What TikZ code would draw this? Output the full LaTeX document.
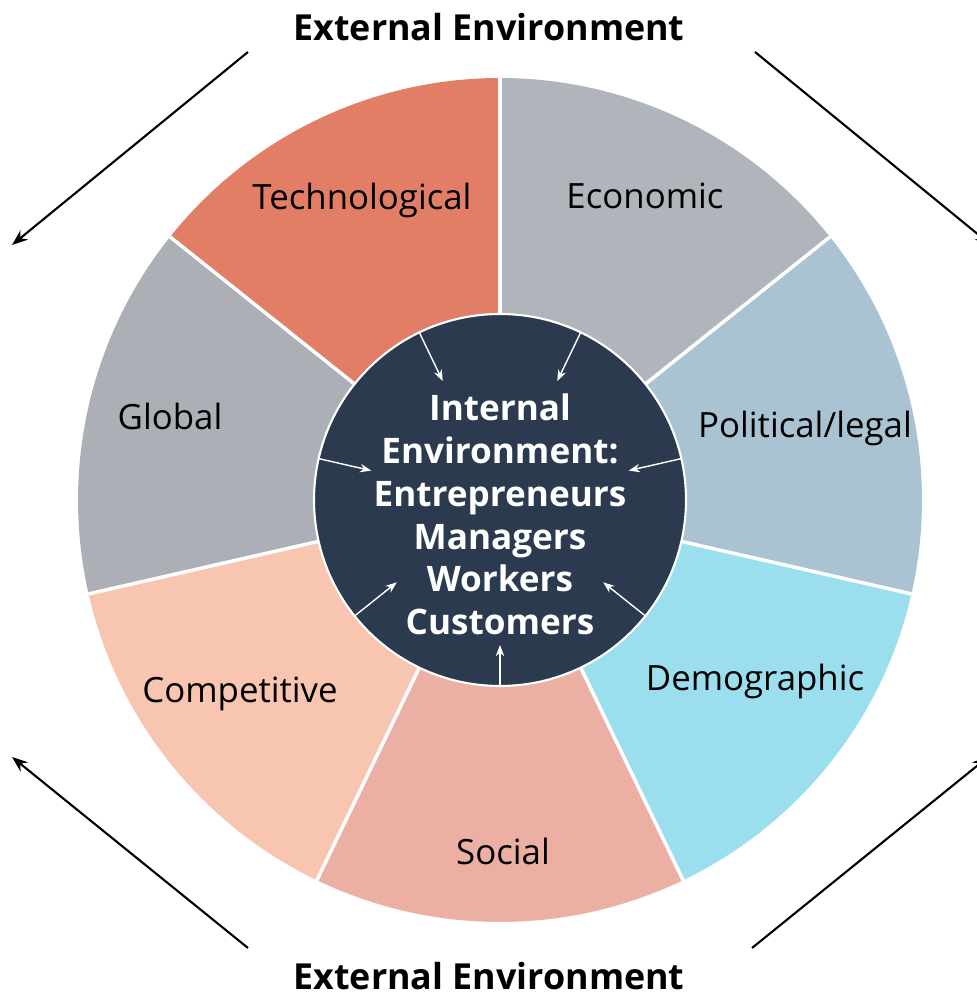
\documentclass[tikz,border=0pt]{standalone}
\usepackage{fontspec}
\setmainfont{Open Sans}
\usetikzlibrary{arrows.meta,calc}
\definecolor{rojoTec}{HTML}{E27D66}
\definecolor{grisEco}{HTML}{B0B5BC}
\definecolor{azulPol}{HTML}{A9C3D3}
\definecolor{cianDem}{HTML}{9BDEED}
\definecolor{rosaSoc}{HTML}{EBB0A3}
\definecolor{salmonCom}{HTML}{F7C5B0}
\definecolor{grisGlo}{HTML}{ACB0B6}
\definecolor{marinoInt}{HTML}{2B3A4F}

\tikzset{
  sector/.style={font=\fontsize{9.9}{12}\selectfont,text=black},
  outarrow/.style={->,line width=0.6pt,black},
  inarrow/.style={-{Stealth[length=3.2pt,width=2.4pt]},line width=0.4pt,white},
  extlabel/.style={font=\bfseries\fontsize{10.2}{12}\selectfont}
}

\begin{document}
\begin{tikzpicture}[>={Stealth[length=4.5pt,width=3.4pt]}]
  \useasboundingbox (-5,-4.97) rectangle (4.77,5);
  \def\Ro{4.22}
  \def\ri{1.86}
  % wedges, clockwise from the top
  \foreach \i/\col in {0/grisEco,1/azulPol,2/cianDem,3/rosaSoc,4/salmonCom,5/grisGlo,6/rojoTec}{
    \pgfmathsetmacro\a{90-\i*360/7}
    \fill[\col] (0,0) -- (\a:\Ro) arc[start angle=\a,delta angle=-360/7,radius=\Ro] -- cycle;
  }
  \foreach \i in {0,...,6}{
    \pgfmathsetmacro\a{90-\i*360/7}
    \draw[white,line width=1pt] (0,0) -- (\a:\Ro);
  }
  \fill[marinoInt] (0,0) circle (\ri);
  \draw[white,line width=0.6pt] (0,0) circle (\ri);

  % white arrows into the core
  \foreach \i/\r in {0/1.32,1/1.32,2/1.32,3/1.45,4/1.32,5/1.32,6/1.32}{
    \pgfmathsetmacro\a{90-360/14-\i*360/7}
    \draw[inarrow] (\a:\ri) -- (\a:\r);
  }

  \node[sector] (eco) at (1.45,3.04) {Economic};
  \node[sector] (pol) at (3.05,0.72) {Political/legal};
  \node[sector] (dem) at (2.55,-1.81) {Demographic};
  \node[sector] (soc) at (0.03,-3.51) {Social};
  \node[sector] (com) at (-2.60,-1.94) {Competitive};
  \node[sector] (glo) at (-3.30,0.84) {Global};
  \node[sector] (tec) at (-1.38,3.00) {Technological};

  \node[align=center,text=white,font=\bfseries\fontsize{10}{12.2}\selectfont] (int) at (0,-0.145)
    {Internal\\Environment:\\Entrepreneurs\\Managers\\Workers\\Customers};

  \node[extlabel] (extTop) at (-0.11,4.73) {External Environment};
  \node[extlabel] (extBot) at (-0.11,-4.76) {External Environment};

  % outer arrows
  \coordinate (tlS) at (-2.52,4.48);
  \coordinate (tlE) at (-4.88,2.55);
  \coordinate (trS) at (2.55,4.48);
  \coordinate (trE) at (4.91,2.55);
  \coordinate (blS) at (-2.52,-4.48);
  \coordinate (blE) at (-4.88,-2.57);
  \coordinate (brS) at (2.52,-4.48);
  \coordinate (brE) at (4.88,-2.57);
  \draw[outarrow] (tlS) -- (tlE);
  \draw[outarrow] (trS) -- (trE);
  \draw[outarrow] (blS) -- (blE);
  \draw[outarrow] (brS) -- (brE);
\end{tikzpicture}
\end{document}
